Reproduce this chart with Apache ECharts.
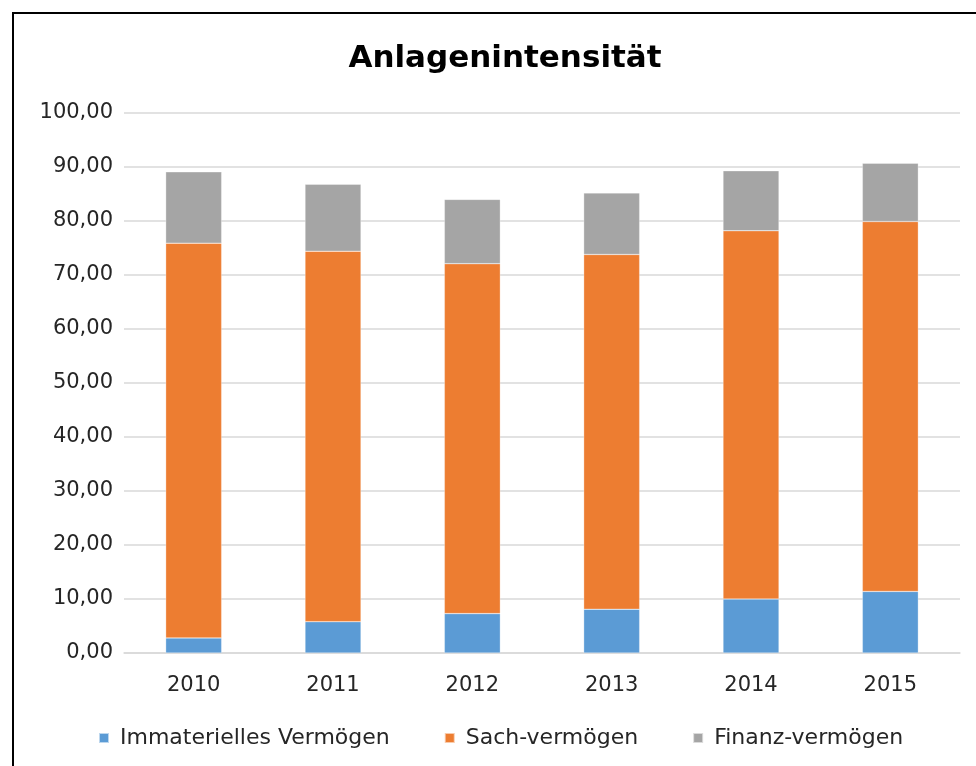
<!DOCTYPE html>
<html><head><meta charset="utf-8">
<script src="https://cdn.jsdelivr.net/npm/echarts@6/dist/echarts.min.js"></script>
<style>
html,body{margin:0;padding:0;background:#fff;}
#frame{position:absolute;left:12px;top:12px;width:980px;height:770px;border:2px solid #000;box-sizing:border-box;}
#c{position:absolute;left:0;top:0;width:976px;height:766px;}
</style></head>
<body>
<div id="frame"></div>
<div id="c"></div>
<script>
const years = ['2010','2011','2012','2013','2014','2015'];
const immateriell = [2.8, 5.8, 7.3, 8.1, 10.0, 11.4];
const sach = [73.1, 68.6, 64.8, 65.7, 68.2, 68.5];
const finanz = [13.2, 12.4, 11.9, 11.4, 11.1, 10.8];
const seriesNames = ['Immaterielles Vermögen', 'Sach-vermögen', 'Finanz-vermögen'];
const colors = ['#5b9bd5', '#ed7d31', '#a5a5a5'];

const font = "'DejaVu Sans', sans-serif";
const chart = echarts.init(document.getElementById('c'), null, {renderer:'canvas'});
const mk = (name, data, color) => ({
  name, type:'bar', stack:'total', data, barWidth:56,
  itemStyle:{color, borderColor:'rgba(255,255,255,0.6)', borderWidth:0.5},
  emphasis:{disabled:true}
});
chart.setOption({
  animation:false,
  backgroundColor:'transparent',
  title:{text:'Anlagenintensität', left:500, textAlign:'center', top:38,
    textStyle:{fontFamily:font, fontSize:31, fontWeight:'bold', color:'#000'}},
  legend:{top:727, left:98, padding:0, itemWidth:10, itemHeight:10, itemGap:54, icon:'rect',
    textStyle:{fontFamily:font, fontSize:22, color:'#262626', padding:[0,0,0,6]},
    data:seriesNames},
  grid:{left:124, right:16, top:113, bottom:113, containLabel:false},
  xAxis:{type:'category', data:years,
    axisLine:{lineStyle:{color:'#d9d9d9', width:1.5}}, axisTick:{show:false},
    axisLabel:{fontFamily:font, fontSize:21, color:'#262626', margin:22}},
  yAxis:{type:'value', min:0, max:100, interval:10,
    axisLine:{show:false}, axisTick:{show:false},
    splitLine:{lineStyle:{color:'#d9d9d9', width:1.5}},
    axisLabel:{fontFamily:font, fontSize:21, color:'#262626', margin:11,
      formatter:v=>v.toFixed(2).replace('.',',')}},
  series:[mk(seriesNames[0], immateriell, colors[0]), mk(seriesNames[1], sach, colors[1]), mk(seriesNames[2], finanz, colors[2])]
});
</script>
</body></html>
